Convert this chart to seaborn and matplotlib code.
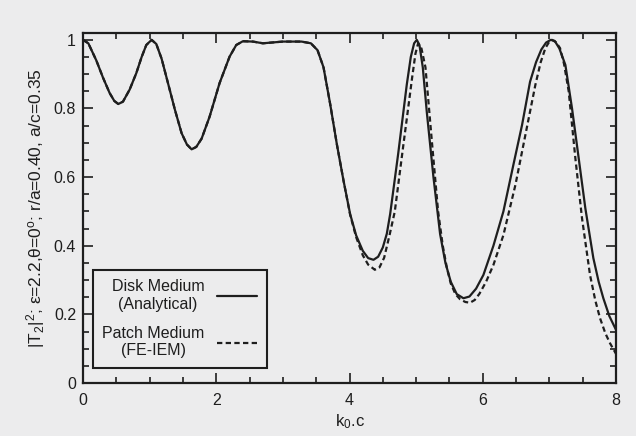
import matplotlib
matplotlib.use("Agg")
import matplotlib.pyplot as plt
from matplotlib.ticker import MultipleLocator, FuncFormatter
import seaborn as sns
import pandas as pd

# Disk Medium (Analytical) - solid
k_disk = [0.00, 0.08, 0.20, 0.30, 0.40, 0.47, 0.53, 0.60, 0.70, 0.80,
          0.88, 0.95, 1.03, 1.10, 1.18, 1.25, 1.38, 1.48, 1.56, 1.63,
          1.70, 1.78, 1.90, 2.05, 2.20, 2.30, 2.40, 2.55, 2.70, 3.00,
          3.28, 3.42, 3.52, 3.61, 3.71, 3.81, 3.91, 4.01, 4.10, 4.20,
          4.28, 4.36, 4.43, 4.50, 4.56, 4.61, 4.73, 4.86, 4.92, 4.97,
          5.01, 5.05, 5.10, 5.16, 5.26, 5.36, 5.44, 5.52, 5.61, 5.71,
          5.80, 5.90, 6.01, 6.16, 6.31, 6.46, 6.59, 6.71, 6.80, 6.88,
          6.95, 7.02, 7.08, 7.15, 7.24, 7.34, 7.44, 7.54, 7.66, 7.74,
          7.81, 7.90, 8.00]
t_disk = [1.000, 0.990, 0.940, 0.890, 0.845, 0.822, 0.813, 0.820, 0.855, 0.903,
          0.950, 0.985, 1.000, 0.988, 0.945, 0.893, 0.796, 0.728, 0.695, 0.681,
          0.688, 0.712, 0.776, 0.874, 0.951, 0.985, 0.996, 0.995, 0.990, 0.995,
          0.995, 0.990, 0.970, 0.920, 0.813, 0.696, 0.590, 0.492, 0.430, 0.385,
          0.364, 0.359, 0.368, 0.395, 0.435, 0.492, 0.667, 0.870, 0.950, 0.990,
          1.000, 0.985, 0.920, 0.790, 0.600, 0.434, 0.350, 0.295, 0.259, 0.247,
          0.252, 0.275, 0.315, 0.400, 0.500, 0.636, 0.752, 0.878, 0.935, 0.972,
          0.992, 1.000, 0.997, 0.975, 0.927, 0.800, 0.655, 0.509, 0.364, 0.295,
          0.247, 0.195, 0.155]

# Patch Medium (FE-IEM) - dashed
k_patch = [0.00, 0.08, 0.20, 0.30, 0.40, 0.47, 0.53, 0.60, 0.70, 0.80,
           0.88, 0.95, 1.03, 1.10, 1.18, 1.25, 1.38, 1.48, 1.56, 1.63,
           1.70, 1.78, 1.90, 2.05, 2.20, 2.30, 2.40, 2.55, 2.70, 3.00,
           3.28, 3.42, 3.52, 3.61, 3.71, 3.81, 3.91, 4.01, 4.10, 4.20,
           4.28, 4.38, 4.45, 4.52, 4.60, 4.68, 4.81, 4.88, 4.94, 4.99,
           5.03, 5.08, 5.14, 5.24, 5.33, 5.40, 5.46, 5.52, 5.59, 5.66,
           5.74, 5.81, 5.88, 5.95, 6.05, 6.16, 6.31, 6.49, 6.64, 6.79,
           6.87, 6.94, 7.00, 7.04, 7.10, 7.16, 7.22, 7.29, 7.39, 7.49,
           7.61, 7.69, 7.76, 7.84, 7.91, 8.00]
t_patch = [1.000, 0.990, 0.940, 0.890, 0.845, 0.822, 0.813, 0.820, 0.855, 0.903,
           0.950, 0.985, 1.000, 0.988, 0.945, 0.893, 0.796, 0.728, 0.695, 0.681,
           0.688, 0.712, 0.776, 0.874, 0.951, 0.985, 0.996, 0.995, 0.990, 0.995,
           0.995, 0.990, 0.970, 0.920, 0.813, 0.696, 0.590, 0.490, 0.425, 0.372,
           0.345, 0.330, 0.337, 0.365, 0.430, 0.500, 0.696, 0.800, 0.890, 0.960,
           0.990, 0.975, 0.920, 0.696, 0.500, 0.400, 0.337, 0.290, 0.259, 0.244,
           0.236, 0.234, 0.242, 0.260, 0.295, 0.344, 0.431, 0.577, 0.723, 0.869,
           0.935, 0.976, 0.995, 1.000, 0.993, 0.976, 0.930, 0.850, 0.655, 0.480,
           0.315, 0.240, 0.189, 0.145, 0.116, 0.085]

x_ticks = [0, 2, 4, 6, 8]
y_ticks = [0, 0.2, 0.4, 0.6, 0.8, 1.0]
label_disk = "Disk Medium\n(Analytical)"
label_patch = "Patch Medium\n(FE-IEM)"
x_label = "k$_0$.c"
y_label = "|T$_2$|$^2$; ε=2.2,θ=0$^o$; r/a=0.40, a/c=0.35"

sns.set_theme(style="ticks")
plt.rcParams["font.family"] = ["Liberation Sans", "DejaVu Sans"]
plt.rcParams["mathtext.fontset"] = "custom"
plt.rcParams["mathtext.rm"] = "Liberation Sans"
plt.rcParams["mathtext.it"] = "Liberation Sans"

bg = "#ececed"
ink = "#1e1e1e"

fig = plt.figure(figsize=(6.36, 4.36), dpi=100, facecolor=bg)
ax = fig.add_axes([83 / 636, 53 / 436, 533 / 636, 350 / 436])
ax.set_facecolor(bg)

df_disk = pd.DataFrame({"k": k_disk, "t": t_disk})
df_patch = pd.DataFrame({"k": k_patch, "t": t_patch})

sns.lineplot(data=df_disk, x="k", y="t", ax=ax, color=ink, lw=1.6,
             label=label_disk, sort=False)
sns.lineplot(data=df_patch, x="k", y="t", ax=ax, color=ink, lw=1.6,
             label=label_patch, sort=False)
ax.lines[1].set_dashes([2.4, 1.5])

ax.set_xlim(0, 8)
ax.set_ylim(0, 1.02)
ax.set_xticks(x_ticks)
ax.set_yticks(y_ticks)
ax.xaxis.set_minor_locator(MultipleLocator(0.5))
ax.yaxis.set_minor_locator(MultipleLocator(0.05))
ax.yaxis.set_major_formatter(FuncFormatter(lambda v, p: f"{v:g}"))
ax.xaxis.set_major_formatter(FuncFormatter(lambda v, p: f"{v:g}"))

ax.tick_params(which="both", direction="in", top=True, right=True,
               color=ink, width=1.2, labelsize=11.5, labelcolor=ink)
ax.tick_params(which="major", length=7)
ax.tick_params(which="minor", length=4)
ax.tick_params(axis="x", which="major", pad=7)
ax.tick_params(axis="y", which="major", pad=5)

for s in ax.spines.values():
    s.set_linewidth(1.6)
    s.set_color(ink)

ax.set_xlabel(x_label, fontsize=12, color=ink, labelpad=3)
ax.set_ylabel(y_label, fontsize=12.5, color=ink, labelpad=5)

leg = ax.legend(loc="lower left", bbox_to_anchor=(0.018, 0.043),
                frameon=True, fancybox=False, shadow=False, markerfirst=False,
                fontsize=11.5, handlelength=2.5, handletextpad=0.8,
                borderpad=0.6, labelspacing=0.9, borderaxespad=0)
leg.get_frame().set_edgecolor(ink)
leg.get_frame().set_linewidth(1.5)
leg.get_frame().set_facecolor(bg)
leg.get_frame().set_alpha(1)
for t in leg.get_texts():
    t.set_multialignment("center")
    t.set_color(ink)

fig.savefig("out.png", dpi=100, facecolor=bg)
